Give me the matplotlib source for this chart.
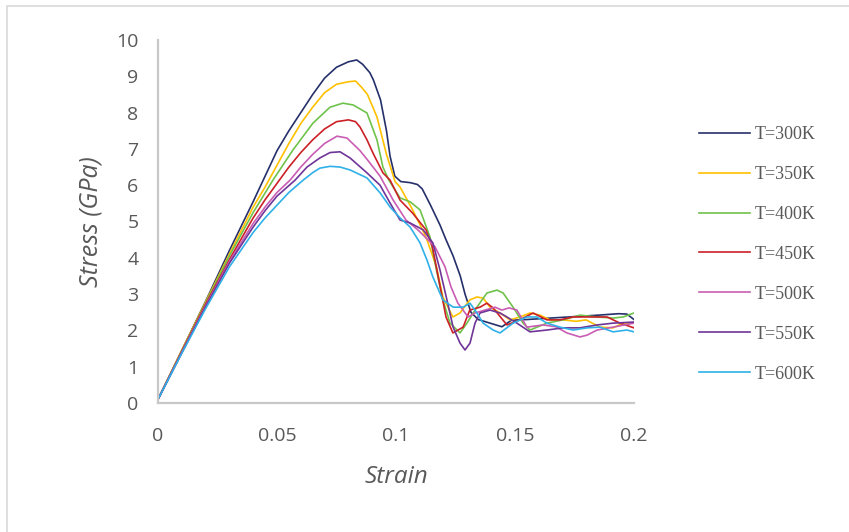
import matplotlib
matplotlib.use("Agg")
import matplotlib.pyplot as plt
from matplotlib.patches import Rectangle

# strain / stress
strain_300 = [0, 0.01, 0.02, 0.03, 0.04, 0.045, 0.05, 0.055, 0.06, 0.065, 0.07, 0.075, 0.08, 0.0835,
              0.086, 0.089, 0.0905, 0.0935, 0.096, 0.0975, 0.0995, 0.102, 0.106, 0.109, 0.111, 0.1145,
              0.1185, 0.121, 0.124, 0.127, 0.129, 0.1315, 0.1345, 0.1395, 0.1445, 0.1485, 0.155, 0.165,
              0.175, 0.185, 0.1935, 0.197, 0.2]
stress_300 = [0.1, 1.45, 2.8, 4.2, 5.55, 6.25, 6.95, 7.5, 8.0, 8.5, 8.95, 9.25, 9.4, 9.45,
              9.33, 9.1, 8.9, 8.35, 7.5, 6.8, 6.25, 6.1, 6.07, 6.02, 5.9, 5.45,
              4.9, 4.5, 4.05, 3.5, 3.0, 2.5, 2.3, 2.2, 2.1, 2.28, 2.3, 2.34,
              2.38, 2.42, 2.46, 2.45, 2.3]

strain_350 = [0, 0.01, 0.02, 0.03, 0.04, 0.045, 0.05, 0.055, 0.06, 0.065, 0.07, 0.075, 0.08, 0.083,
              0.0855, 0.088, 0.092, 0.096, 0.0996, 0.1017, 0.107, 0.1126, 0.117, 0.1197, 0.1239,
              0.1269, 0.131, 0.134, 0.1366, 0.1395, 0.1437, 0.1479, 0.1521, 0.1563, 0.1605, 0.1647,
              0.1702, 0.1757, 0.1799, 0.1857, 0.1912, 0.1954, 0.2]
stress_350 = [0.1, 1.45, 2.78, 4.1, 5.4, 5.95, 6.55, 7.15, 7.7, 8.15, 8.55, 8.78, 8.85, 8.87,
              8.7, 8.5, 7.88, 6.85, 6.1, 5.95, 5.32, 4.57, 3.75, 2.92, 2.37,
              2.48, 2.84, 2.92, 2.89, 2.64, 2.48, 2.29, 2.37, 2.48, 2.42, 2.29,
              2.29, 2.25, 2.29, 2.09, 2.07, 2.2, 2.2]

strain_400 = [0, 0.01, 0.02, 0.03, 0.04, 0.0483, 0.0567, 0.0651, 0.0723, 0.0777, 0.082, 0.0878,
              0.092, 0.0945, 0.097, 0.1017, 0.106, 0.1101, 0.1143, 0.117, 0.1197, 0.1227, 0.1269,
              0.1298, 0.134, 0.1382, 0.1424, 0.145, 0.1492, 0.1534, 0.1563, 0.1634, 0.1702, 0.1773,
              0.1845, 0.1912, 0.1954, 0.2]
stress_400 = [0.1, 1.43, 2.75, 4.05, 5.25, 6.14, 6.97, 7.71, 8.15, 8.26, 8.21, 7.99,
              7.25, 6.5, 6.14, 5.65, 5.54, 5.32, 4.57, 3.66, 2.84, 2.2, 1.93,
              2.2, 2.64, 3.03, 3.11, 3.03, 2.64, 2.2, 2.01, 2.2, 2.29, 2.42,
              2.37, 2.34, 2.37, 2.48]

strain_450 = [0, 0.01, 0.02, 0.03, 0.04, 0.045, 0.05, 0.055, 0.06, 0.065, 0.07, 0.075, 0.08, 0.083,
              0.0849, 0.0878, 0.0903, 0.0945, 0.0975, 0.1017, 0.107, 0.1126, 0.1153, 0.118, 0.121,
              0.1239, 0.1282, 0.131, 0.1353, 0.1382, 0.1408, 0.1466, 0.152, 0.1576, 0.1634, 0.1689,
              0.1744, 0.1815, 0.1887, 0.1941, 0.2]
stress_450 = [0.1, 1.42, 2.72, 3.95, 5.1, 5.6, 6.05, 6.5, 6.9, 7.25, 7.55, 7.75, 7.8, 7.75,
              7.6, 7.25, 6.89, 6.34, 6.14, 5.59, 5.23, 4.77, 4.3, 3.39, 2.37,
              1.93, 2.09, 2.56, 2.64, 2.75, 2.62, 2.15, 2.29, 2.48, 2.29, 2.29,
              2.37, 2.37, 2.37, 2.2, 2.07]

strain_500 = [0, 0.01, 0.02, 0.03, 0.04, 0.045, 0.05, 0.0555, 0.06, 0.065, 0.07, 0.0752, 0.0794,
              0.0849, 0.088, 0.0933, 0.0987, 0.1042, 0.1092, 0.1164, 0.1206, 0.1231, 0.126, 0.1303,
              0.1332, 0.1374, 0.1416, 0.1445, 0.1475, 0.1508, 0.155, 0.1618, 0.1672, 0.1718, 0.1773,
              0.1803, 0.1845, 0.1912, 0.2]
stress_500 = [0.1, 1.4, 2.68, 3.9, 4.95, 5.4, 5.8, 6.14, 6.5, 6.85, 7.15, 7.35, 7.3,
              6.95, 6.7, 6.25, 5.6, 5.04, 4.77, 4.3, 3.75, 3.2, 2.75, 2.37,
              2.48, 2.56, 2.64, 2.56, 2.62, 2.56, 2.09, 2.15, 2.1, 1.93, 1.82,
              1.87, 2.01, 2.09, 2.2]

strain_550 = [0, 0.01, 0.02, 0.03, 0.04, 0.045, 0.05, 0.0576, 0.0626, 0.068, 0.0723, 0.0765, 0.0807,
              0.0878, 0.0933, 0.0975, 0.1017, 0.1059, 0.1114, 0.1155, 0.1185, 0.1214, 0.124, 0.1269,
              0.129, 0.1311, 0.1332, 0.1353, 0.1395, 0.1437, 0.1466, 0.1508, 0.1563, 0.1634, 0.1702,
              0.1773, 0.1845, 0.1912, 0.2]
stress_550 = [0.1, 1.38, 2.65, 3.85, 4.85, 5.3, 5.7, 6.14, 6.5, 6.75, 6.9, 6.92, 6.75,
              6.34, 6.0, 5.51, 5.04, 4.96, 4.77, 4.41, 3.66, 2.84, 2.09, 1.65,
              1.46, 1.65, 2.2, 2.48, 2.56, 2.48, 2.37, 2.2, 1.96, 2.01, 2.07,
              2.07, 2.15, 2.2, 2.23]

strain_600 = [0, 0.01, 0.02, 0.03, 0.04, 0.045, 0.05, 0.055, 0.061, 0.0651, 0.068, 0.0723, 0.0765,
              0.0807, 0.0878, 0.0933, 0.0975, 0.1017, 0.1059, 0.1101, 0.113, 0.1155, 0.1197, 0.124,
              0.1282, 0.1311, 0.134, 0.1366, 0.1408, 0.1437, 0.1492, 0.155, 0.1592, 0.1634, 0.1689,
              0.1744, 0.1803, 0.1857, 0.1912, 0.197, 0.2]
stress_600 = [0.1, 1.37, 2.6, 3.75, 4.7, 5.1, 5.45, 5.8, 6.14, 6.35, 6.47, 6.52, 6.5,
              6.42, 6.2, 5.79, 5.4, 5.1, 4.85, 4.41, 3.94, 3.47, 2.84, 2.64,
              2.64, 2.75, 2.48, 2.2, 2.01, 1.93, 2.2, 2.37, 2.37, 2.2, 2.09,
              2.01, 2.07, 2.09, 1.96, 2.01, 1.96]

labels = ["T=300K", "T=350K", "T=400K", "T=450K", "T=500K", "T=550K", "T=600K"]
colors = ["#25306a", "#ffc000", "#6fc24b", "#cc2027", "#c95db3", "#6f3598", "#2fb0e8"]

series = [(strain_300, stress_300), (strain_350, stress_350), (strain_400, stress_400),
          (strain_450, stress_450), (strain_500, stress_500), (strain_550, stress_550),
          (strain_600, stress_600)]

fig = plt.figure(figsize=(8.49, 5.32), dpi=100)
ax = fig.add_axes([158 / 849, 1 - 403 / 532, (634 - 158) / 849, (403 - 40) / 532])

for (x, y), lab, c in zip(series, labels, colors):
    ax.plot(x, y, color=c, lw=1.2, label=lab)

ax.set_xlim(0, 0.2)
ax.set_ylim(0, 10)
ax.set_xticks([0, 0.05, 0.1, 0.15, 0.2])
ax.set_xticklabels(["0", "0.05", "0.1", "0.15", "0.2"])
ax.set_yticks(range(0, 11))

for side in ["top", "right"]:
    ax.spines[side].set_visible(False)
for side in ["left", "bottom"]:
    ax.spines[side].set_color("#c8c8c8")
    ax.spines[side].set_linewidth(1.6)

ax.tick_params(axis="x", length=0, labelsize=14, labelcolor="#595959", pad=17)
ax.tick_params(axis="y", length=0, labelsize=14, labelcolor="#595959", pad=14)
for t in ax.get_xticklabels() + ax.get_yticklabels():
    t.set_family("Open Sans")

ax.set_xlabel("Strain", fontsize=17.5, style="italic", color="#595959", family="Open Sans", labelpad=15)
ax.set_ylabel("Stress (GPa)", fontsize=18, style="italic", color="#595959", family="Open Sans", labelpad=9)

leg = ax.legend(loc="upper left", bbox_to_anchor=(699 / 849, 1 - 126 / 532), bbox_transform=fig.transFigure,
                frameon=False, borderpad=0, borderaxespad=0, handlelength=2.85, handletextpad=0.25,
                labelspacing=1.27, prop={"family": "Liberation Serif", "size": 13})
for t in leg.get_texts():
    t.set_color("#595959")

# light frame around the chart area
fig.patches.append(Rectangle((7 / 849, -0.1), 1.0, 1 - 6 / 532 + 0.1, transform=fig.transFigure,
                             fill=False, edgecolor="#d9d9d9", lw=1.2))

fig.savefig("out.png", dpi=100)
